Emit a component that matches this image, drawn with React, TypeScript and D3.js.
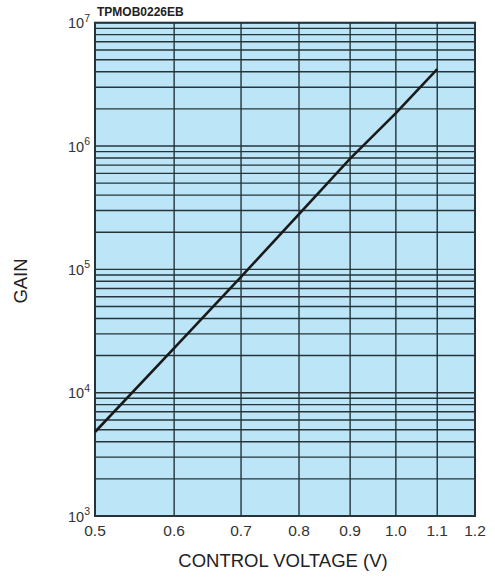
import { useRef, useEffect } from 'react';
import * as d3 from 'd3';

const voltage = [0.5, 0.6, 0.7, 0.8, 0.9, 1.0, 1.1];
const gain = [4800, 23000, 87000, 280000, 790000, 1850000, 4200000];
const xTicks = [0.5, 0.6, 0.7, 0.8, 0.9, 1.0, 1.1, 1.2];
const yDecades = [3, 4, 5, 6, 7];

export default function App() {
    const svgRef = useRef<SVGSVGElement>(null);

    useEffect(() => {
        if (!svgRef.current) return;
        const width = 495;
        const height = 579;
        const margin = { top: 22.7, right: 20, bottom: 63, left: 95 };

        const svg = d3.select(svgRef.current);
        svg.selectAll('*').remove();
        svg.attr('width', width).attr('height', height);

        const x = d3.scaleLog().domain([0.5, 1.2]).range([margin.left, width - margin.right]);
        const y = d3.scaleLog().domain([1e3, 1e7]).range([height - margin.bottom, margin.top]);

        const font = 'Liberation Sans, Arial, sans-serif';
        const gridColor = '#25343a';

        // plot background
        svg.append('rect')
            .attr('x', x(0.5))
            .attr('y', y(1e7))
            .attr('width', x(1.2) - x(0.5))
            .attr('height', y(1e3) - y(1e7))
            .attr('fill', '#bce6f7');

        // horizontal grid (1..9 per decade)
        const hLines: number[] = [];
        for (let d = 3; d < 7; d++) {
            for (let m = 1; m <= 9; m++) hLines.push(m * Math.pow(10, d));
        }
        hLines.push(1e7);
        svg.append('g')
            .selectAll('line')
            .data(hLines)
            .enter()
            .append('line')
            .attr('x1', x(0.5))
            .attr('x2', x(1.2))
            .attr('y1', d => y(d))
            .attr('y2', d => y(d))
            .attr('stroke', gridColor)
            .attr('stroke-width', 1.4);

        // vertical grid
        svg.append('g')
            .selectAll('line')
            .data(xTicks)
            .enter()
            .append('line')
            .attr('x1', d => x(d))
            .attr('x2', d => x(d))
            .attr('y1', y(1e7))
            .attr('y2', y(1e3))
            .attr('stroke', gridColor)
            .attr('stroke-width', 1.4);

        // frame
        svg.append('rect')
            .attr('x', x(0.5))
            .attr('y', y(1e7))
            .attr('width', x(1.2) - x(0.5))
            .attr('height', y(1e3) - y(1e7))
            .attr('fill', 'none')
            .attr('stroke', gridColor)
            .attr('stroke-width', 2);

        // curve
        const line = d3.line<number>()
            .x((_, i) => x(voltage[i]))
            .y(d => y(d));
        svg.append('path')
            .datum(gain)
            .attr('d', line)
            .attr('fill', 'none')
            .attr('stroke', '#1a1a1a')
            .attr('stroke-width', 2.6);

        // x tick labels
        svg.append('g')
            .selectAll('text')
            .data(xTicks)
            .enter()
            .append('text')
            .attr('x', d => x(d))
            .attr('y', y(1e3) + 20)
            .attr('text-anchor', 'middle')
            .attr('fill', '#333')
            .style('font-family', font)
            .style('font-size', '15.5px')
            .text(d => d.toFixed(1));

        // y tick labels
        yDecades.forEach(e => {
            const t = svg.append('text')
                .attr('x', x(0.5) - 5)
                .attr('y', y(Math.pow(10, e)) + 5.5)
                .attr('text-anchor', 'end')
                .attr('fill', '#333')
                .style('font-family', font)
                .style('font-size', '14.5px');
            t.append('tspan').text('10');
            t.append('tspan')
                .attr('dy', -6.5)
                .style('font-size', '10.5px')
                .text(String(e));
        });

        // code label
        svg.append('text')
            .attr('x', x(0.5) + 2)
            .attr('y', 16)
            .attr('fill', '#222')
            .style('font-family', font)
            .style('font-size', '12px')
            .style('font-weight', 'bold')
            .text('TPMOB0226EB');

        // axis titles
        svg.append('text')
            .attr('x', (x(0.5) + x(1.2)) / 2 - 2)
            .attr('y', 567)
            .attr('text-anchor', 'middle')
            .attr('fill', '#222')
            .style('font-family', font)
            .style('font-size', '18.5px')
            .text('CONTROL VOLTAGE (V)');

        svg.append('text')
            .attr('transform', `translate(27, 281) rotate(-90)`)
            .attr('text-anchor', 'middle')
            .attr('fill', '#222')
            .style('font-family', font)
            .style('font-size', '18.5px')
            .text('GAIN');
    }, []);

    return (
        <div style={{ position: 'absolute', left: 0, top: 0, background: '#fff' }}>
            <svg ref={svgRef} style={{ display: 'block' }}></svg>
        </div>
    );
}
